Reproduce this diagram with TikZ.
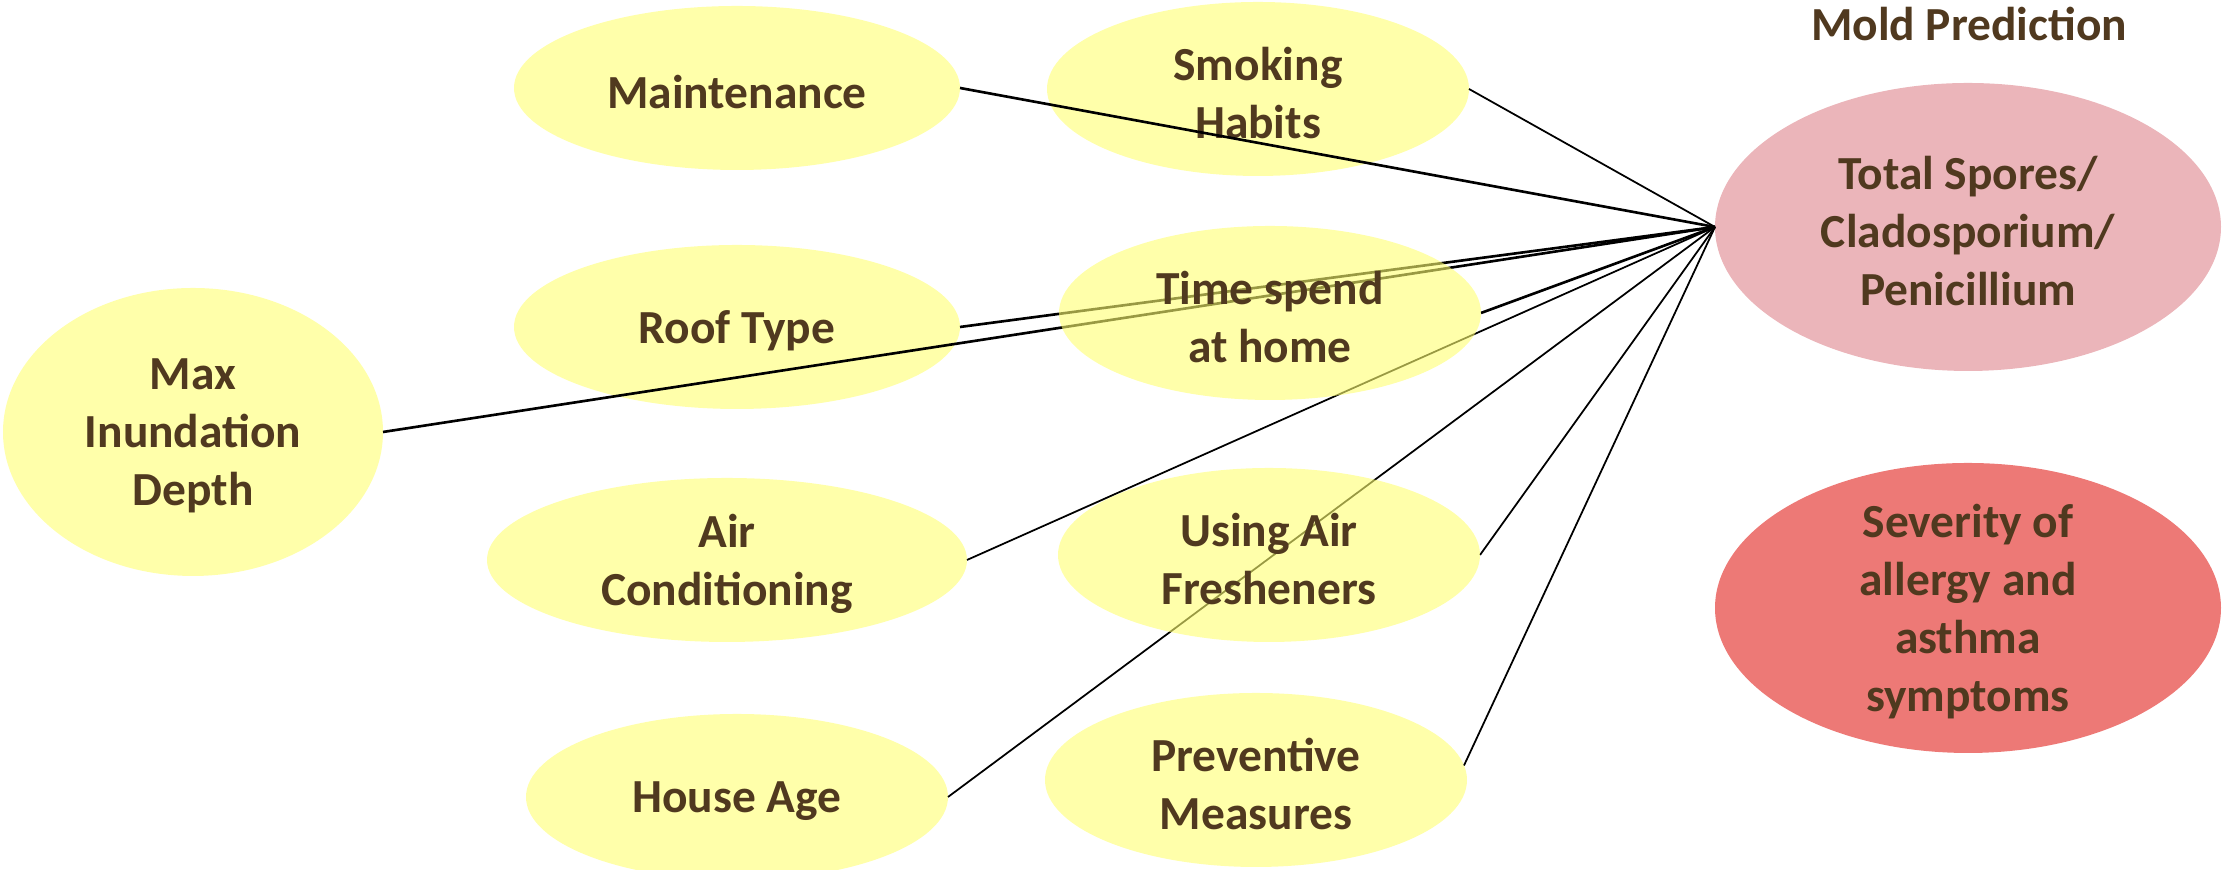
\documentclass[tikz,border=0pt]{standalone}
\usepackage{fontspec}
\setmainfont{Carlito}
\usetikzlibrary{shapes.geometric}

\definecolor{factorfill}{RGB}{255,255,170}
\definecolor{factorbase}{RGB}{255,255,113}
\definecolor{sporefill}{RGB}{235,181,186}
\definecolor{severefill}{RGB}{237,121,118}
\definecolor{labelbrown}{RGB}{80,57,31}

\pgfdeclarelayer{front}
\pgfsetlayers{main,front}

\tikzset{
	factor/.style={ellipse,fill=factorfill,inner sep=0pt,outer sep=0pt},
	seethru/.style={ellipse,fill=factorbase,fill opacity=0.6,inner sep=0pt,outer sep=0pt},
	txt/.style={align=center,text=labelbrown,text opacity=1,inner sep=0pt,yshift=-0.04cm,
		font=\bfseries\fontsize{13.5}{16.5}\selectfont},
	link/.style={draw=black,line width=0.5pt},
	heavylink/.style={draw=black,line width=0.75pt}
}

\begin{document}
\begin{tikzpicture}
	\useasboundingbox (0,0) rectangle (22.27,8.70);
	\node[txt] (title) at (19.69,8.50) {Mold Prediction};
	% outcomes
	\node[factor,fill=sporefill,minimum width=5.06cm,minimum height=2.88cm,
		label={[txt]center:{Total Spores/\\Cladosporium/\\Penicillium}}] (spores) at (19.68,6.43) {};
	\node[factor,fill=severefill,minimum width=5.06cm,minimum height=2.90cm,
		label={[txt]center:{Severity of\\allergy and\\asthma\\symptoms}}] (sev) at (19.68,2.62) {};
	% factors
	\node[factor,minimum width=3.80cm,minimum height=2.88cm,
		label={[txt]center:{Max\\Inundation\\Depth}}] (maxd) at (1.93,4.38) {};
	\node[factor,minimum width=4.46cm,minimum height=1.64cm,
		label={[txt]center:Maintenance}] (maint) at (7.37,7.82) {};
	\node[factor,minimum width=4.46cm,minimum height=1.64cm,
		label={[txt]center:Roof Type}] (roof) at (7.37,5.43) {};
	\node[factor,minimum width=4.80cm,minimum height=1.64cm,
		label={[txt]center:{Air\\Conditioning}}] (aircon) at (7.27,3.10) {};
	\node[factor,minimum width=4.22cm,minimum height=1.66cm,
		label={[txt]center:House Age}] (house) at (7.37,0.73) {};
	\node[factor,minimum width=4.22cm,minimum height=1.74cm,
		label={[txt]center:{Smoking\\Habits}}] (smoke) at (12.58,7.81) {};
	\node[factor,minimum width=4.22cm,minimum height=1.74cm,
		label={[txt]center:{Preventive\\Measures}}] (prev) at (12.56,0.90) {};
	\begin{pgfonlayer}{front}
		\node[seethru,minimum width=4.22cm,minimum height=1.74cm,
			label={[txt]center:{Time spend\\at home}}] (time) at (12.70,5.57) {};
		\node[seethru,minimum width=4.22cm,minimum height=1.74cm,
			label={[txt]center:{Using Air\\Fresheners}}] (fresh) at (12.69,3.15) {};
	\end{pgfonlayer}
	% links into the spore node
	\draw[heavylink] (maint.east) -- (spores.west);
	\draw[heavylink] (roof.east) -- (spores.west);
	\draw[heavylink] (maxd.east) -- (spores.west);
	\draw[heavylink] (time.east) -- (spores.west);
	\draw[link] (smoke.east) -- (spores.west);
	\draw[link] (aircon.east) -- (spores.west);
	\draw[link] (fresh.east) -- (spores.west);
	\draw[link] (house.east) -- (spores.west);
	\draw[link] (prev.4) -- (spores.west);
\end{tikzpicture}
\end{document}
